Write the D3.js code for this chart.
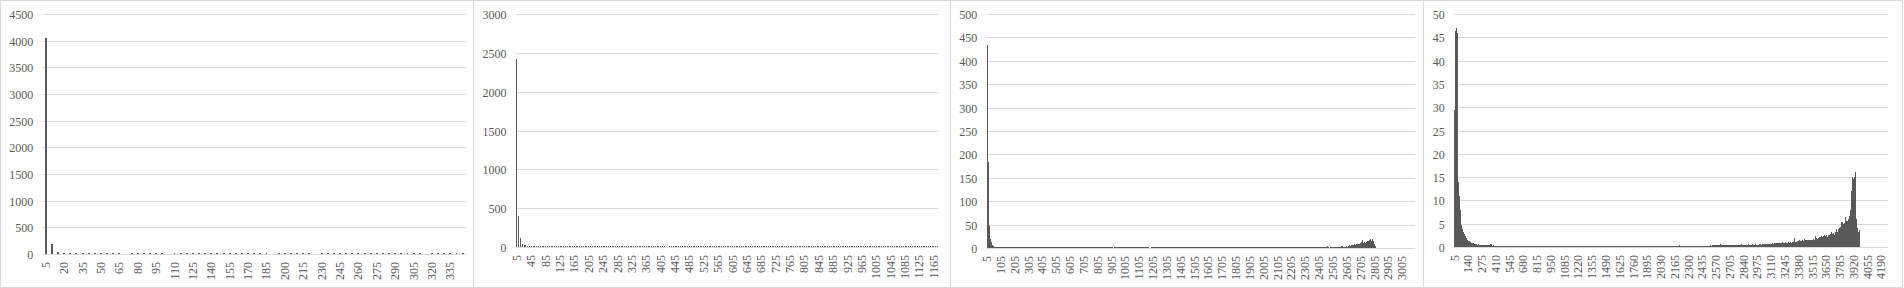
<!DOCTYPE html>
<html>
<head>
<meta charset="utf-8">
<script src="https://cdn.jsdelivr.net/npm/d3@7"></script>
<style>
  body { margin: 0; background: #fff; }
  svg text { font-family: "Liberation Serif", "Times New Roman", serif; font-size: 12px; fill: #595959; }
</style>
</head>
<body>
<script>
'use strict';

// bin counts, bins are 5, 10, 15, ... (one value per bin)
const counts1 = [4050, 190, 40,
  15, 14, 13, 14, 12, 13, 12, 12, 13, 12, 0, 12, 11, 12, 12, 11,
  12, 0, 11, 12, 11, 11, 12, 11, 10, 11, 11, 12, 11, 10, 11, 10,
  11, 10, 0, 11, 10, 10, 11, 10, 10, 0, 10, 10, 11, 10, 10, 10,
  10, 11, 10, 10, 10, 11, 10, 10, 10, 10, 10, 0, 10, 10, 10, 10,
  10, 10];

const counts2 = [2421, 399, 111, 43, 21, 21, 13, 10, 9, 9, 8,
  8, 9, 8, 7, 8, 8, 7, 8, 7, 8, 7, 8, 7, 7, 8, 7,
  7, 8, 7, 7, 8, 7, 7, 7, 7, 8, 7, 7, 7, 8, 7, 7,
  7, 7, 7, 7, 7, 7, 8, 7, 7, 7, 7, 7, 7, 7, 8, 7,
  7, 7, 7, 7, 7, 7, 7, 7, 7, 8, 7, 7, 7, 7, 7, 7,
  7, 7, 7, 7, 7, 7, 7, 7, 0, 0, 7, 7, 7, 7, 7, 7,
  7, 7, 7, 8, 7, 7, 7, 7, 7, 7, 7, 7, 7, 7, 7, 7,
  7, 7, 7, 7, 7, 7, 7, 8, 7, 7, 7, 7, 7, 7, 7, 7,
  7, 7, 7, 7, 7, 7, 7, 7, 7, 7, 7, 7, 8, 7, 7, 7,
  7, 7, 7, 7, 7, 7, 7, 7, 7, 7, 7, 7, 7, 7, 7, 7,
  7, 7, 7, 7, 8, 7, 7, 7, 7, 7, 7, 7, 7, 7, 7, 7,
  7, 7, 7, 7, 7, 7, 7, 7, 7, 7, 8, 7, 7, 7, 7, 7,
  7, 7, 7, 7, 7, 7, 7, 7, 7, 7, 7, 7, 7, 7, 7, 7,
  7, 7, 7, 7, 7, 7, 8, 7, 7, 7, 7, 7, 7, 7, 7, 7,
  7, 7, 7, 7, 7, 7, 7, 7, 7, 7, 7, 7, 7, 7, 7, 7];

const counts3 = [
  347, 434, 184, 46, 35, 18.5, 12, 8, 6, 4.5, 3.5, 3, 2.5, 2.2, 2, 1.9, 1.8, 1.7, 1.6, 1.6, // 0-19
  1.5, 1.6, 1.5, 1.4, 1.5, 1.5, 1.4, 1.5, 1.3, 1.4, 1.5, 1.4, 1.3, 1.4, 1.5, 1.3, 1.4, 1.3, 1.4, 1.3, // 20-39
  1.3, 1.4, 1.3, 1.3, 1.4, 1.3, 1.2, 1.3, 1.3, 1.4, 1.3, 1.2, 1.3, 1.3, 1.2, 1.3, 1.4, 1.2, 1.3, 1.2, // 40-59
  1.3, 1.3, 1.2, 1.3, 1.2, 1.3, 1.3, 1.2, 1.3, 1.2, 1.3, 1.2, 1.3, 1.2, 1.2, 1.3, 1.2, 1.3, 1.2, 1.2, // 60-79
  1.3, 1.2, 1.2, 1.3, 1.2, 1.2, 1.3, 1.2, 1.2, 1.2, 1.3, 1.2, 1.2, 1.2, 1.3, 1.2, 1.2, 1.2, 1.2, 1.3, // 80-99
  1.2, 1.2, 1.2, 1.3, 1.2, 1.2, 1.2, 1.2, 1.2, 1.3, 1.2, 1.2, 1.2, 1.2, 1.2, 1.2, 1.3, 1.2, 1.2, 1.2, // 100-119
  1.2, 1.2, 1.3, 1.2, 1.2, 1.2, 1.2, 1.2, 1.2, 1.2, 1.3, 1.2, 1.2, 1.2, 1.2, 1.2, 1.2, 1.2, 1.2, 1.3, // 120-139
  1.2, 1.2, 1.2, 1.2, 1.2, 1.2, 1.2, 1.2, 1.2, 1.2, 1.3, 1.2, 1.2, 1.2, 1.2, 1.2, 1.2, 1.2, 1.2, 1.2, // 140-159
  1.2, 1.2, 1.2, 1.3, 1.2, 1.2, 1.2, 1.2, 1.2, 1.2, 1.2, 1.2, 1.2, 1.3, 1.2, 1.2, 1.2, 1.2, 1.2, 1.2, // 160-179
  1.2, 1.2, 0,   0,   1.2, 1.2, 1.2, 1.2, 1.2, 1.2, 1.2, 1.3, 1.2, 1.2, 1.2, 1.2, 1.2, 1.2, 1.2, 1.2, // 180-199
  1.2, 1.2, 1.2, 1.2, 1.2, 1.2, 1.2, 1.2, 1.2, 1.2, 1.3, 1.2, 1.2, 1.2, 1.2, 1.2, 1.2, 1.2, 1.2, 1.2, // 200-219
  1.2, 1.2, 1.2, 1.2, 1.2, 1.2, 1.2, 1.2, 1.2, 1.2, 1.2, 1.2, 1.2, 1.2, 1.2, 0,   0,   1.2, 1.2, 1.2, // 220-239
  1.2, 1.2, 1.2, 1.2, 1.2, 1.2, 1.3, 1.2, 1.2, 1.2, 1.2, 1.2, 1.2, 1.2, 1.2, 1.2, 1.2, 1.2, 1.2, 1.2, // 240-259
  1.2, 1.2, 1.2, 1.2, 1.2, 1.2, 1.2, 1.2, 1.2, 1.2, 1.2, 1.2, 1.2, 1.3, 1.2, 1.2, 1.2, 1.2, 1.2, 1.2, // 260-279
  1.2, 1.2, 1.2, 1.2, 1.2, 1.2, 1.2, 1.2, 1.2, 1.2, 1.2, 1.2, 1.2, 1.2, 1.2, 1.2, 1.2, 1.2, 1.2, 1.2, // 280-299
  1.2, 1.2, 1.2, 1.2, 1.2, 1.2, 1.2, 1.2, 1.3, 1.2, 1.2, 1.2, 1.2, 1.2, 1.2, 1.2, 1.2, 1.2, 1.2, 1.2, // 300-319
  1.2, 1.2, 1.2, 1.2, 1.2, 1.2, 1.2, 1.2, 1.2, 1.2, 1.2, 1.2, 1.2, 1.2, 1.2, 1.2, 1.2, 1.2, 1.2, 1.2, // 320-339
  1.2, 1.2, 1.2, 1.2, 1.2, 1.2, 1.2, 1.2, 1.2, 1.2, 1.2, 1.2, 1.2, 1.2, 1.2, 1.3, 1.2, 1.2, 1.2, 1.2, // 340-359
  1.2, 1.2, 1.2, 1.2, 1.2, 1.2, 1.2, 1.2, 1.2, 1.2, 1.2, 1.2, 1.2, 1.2, 1.2, 1.2, 1.2, 1.2, 1.2, 1.2, // 360-379
  1.2, 1.2, 1.2, 1.2, 1.2, 1.2, 1.2, 1.2, 1.2, 1.2, 1.2, 1.2, 1.2, 1.2, 1.2, 1.2, 1.2, 1.2, 1.2, 1.2, // 380-399
  1.2, 1.2, 1.2, 1.2, 1.2, 1.2, 1.2, 1.2, 1.2, 1.2, 1.2, 1.2, 1.2, 1.2, 1.2, 1.2, 1.2, 1.2, 1.2, 1.2, // 400-419
  1.2, 1.2, 1.2, 1.2, 1.2, 1.2, 1.2, 1.2, 1.2, 1.2, 1.2, 1.2, 1.2, 1.2, 1.2, 1.2, 1.2, 1.2, 1.2, 1.2, // 420-439
  1.2, 1.2, 1.2, 1.2, 1.2, 1.2, 1.2, 1.2, 1.2, 1.2, 1.2, 1.2, 1.2, 1.2, 1.2, 1.2, 1.2, 1.2, 1.2, 1.2, // 440-459
  1.2, 1.2, 1.2, 1.2, 1.2, 1.2, 1.2, 1.2, 1.2, 1.2, 1.2, 1.2, 1.2, 1.2, 1.2, 1.2, 1.2, 1.2, 1.2, 1.2, // 460-479
  1.2, 1.2, 1.2, 1.2, 1.2, 1.2, 1.2, 1.2, 1.2, 1.2, 1.2, 1.2,                                         // 480-491
  4.3, 1, 1.2, 1, 1.3, 1.2, 1.5, 1.2,                                                                  // 492-499
  1.5, 3, 1.2, 1.5, 3, 1.5, 1.2, 1.5, 1.8, 2,                                                          // 500-509
  2, 3, 4, 5, 4, 3, 3, 2, 3, 4,                                                                        // 510-519
  4, 3, 4, 5, 6, 4, 5, 6, 7, 5,                                                                        // 520-529
  6, 8, 6, 7, 8, 7, 8, 9, 7, 8,                                                                        // 530-539
  10, 12, 17, 9, 10, 11, 12, 10, 13, 11,                                                               // 540-549
  14, 12, 15, 17, 19, 14, 16, 19, 15, 12,                                                              // 550-559
  8, 5, 5,                                                                                             // 560-562
  0, 0, 0, 0, 0, 0, 0, 0, 0, 0, 0, 0, 0, 0, 0, 0, 0, 0, 0, 0,                                          // 563-582
  0, 0, 0, 0, 0, 0, 0, 0, 0, 0, 0, 0, 0, 0, 0, 0, 0, 0, 0, 0,                                          // 583-602
  0, 0, 0, 0, 0, 0, 0, 0, 0, 0, 0, 0, 0, 0, 0, 0                                                       // 603-618
];

const counts4 = [29.5, 46.4, 46, 46.5, 47, 46, 14.5, 14, 12, 11, 9, 8, 5, 4.8, 4.5,
  3.8, 3.5, 3.2, 3, 2.7, 2.5, 2.3, 2.1, 1.9, 1.7, 1.5, 1.4, 1.3, 1.2, 1.2,
  1.1, 1.0, 1.0, 0.9, 0.9, 0.8, 0.8, 0.8, 0.7, 0.7, 0.7, 0.6, 0.6, 0.6, 0.6,
  0.5, 0.5, 0.6, 0.5, 0.5, 0.5, 0.5, 0.4, 0.5, 0.4, 0.4, 0.5, 0.4, 0.4, 0.4,
  0.4, 0.4, 0.3, 0.4, 0.4, 0.3, 0.4, 0.3, 0.3, 0.4, 0.3, 0.7, 0.7, 0.6, 0.3, 0.3, 0.3, 0.4, 0.3, 0.3,
  0.3, 0.3, 0.3, 0.3, 0.2, 0.3, 0.3, 0.3, 0.2, 0.3, 0.3, 0.2, 0.3, 0.2, 0.3, 0.2, 0.2, 0.3, 0.2, 0.2,
  0.3, 0.2, 0.3, 0.2, 0.2, 0.3, 0.2, 0.2, 0.3, 0.2, 0.2, 0.2, 0.3, 0.2, 0.2, 0.2,
  0.3, 0.2, 0.2, 0.2, 0.2, 0.3, 0.2, 0.2, 0.2, 0.2, 0.2, 0.3, 0.2, 0.2, 0.2, 0.2,
  0.2, 0.2, 0.3, 0.2, 0.2, 0.2, 0.2, 0.1, 0.2, 0.2, 0.2, 0.2, 0.2, 0.3, 0.2, 0.2,
  0.2, 0.2, 0.2, 0.2, 0.1, 0.2, 0.2, 0.2, 0.2, 0.2, 0.2, 0.2, 0.1, 0.2, 0.2, 0.2,
  0.2, 0.1, 0.2, 0.2, 0.2, 0.2, 0.2, 0.2, 0.1, 0.2, 0.2, 0.2, 0.2, 0.2, 0.2, 0.1,
  0.2, 0.2, 0.2, 0.2, 0.2, 0.1, 0.2, 0.2, 0.2, 0.2, 0.2, 0.2, 0.2, 0.1, 0.2, 0.2,
  0.2, 0.2, 0.1, 0.2, 0.2, 0.2, 0.2, 0.2, 0.2, 0.2, 0.1, 0.2, 0.2, 0.2, 0.2, 0.2,
  0.2, 0.2, 0.2, 0.2, 0.2, 0.2, 0.1, 0.2, 0.2, 0.2, 0.2, 0.2, 0.2, 0.2, 0.2, 0.1,
  0.2, 0.2, 0.2, 0.1, 0.2, 0.2, 0.2, 0.2, 0.2, 0.2, 0.2, 0.1, 0.2, 0.2, 0.2, 0.2,
  0.2, 0.2, 0.2, 0.2, 0.2, 0.2, 0.2, 0.2, 0.1, 0.2, 0.2, 0.2, 0.2, 0.2, 0.2, 0.2,
  0.2, 0.1, 0.2, 0.2, 0.2, 0.2, 0.2, 0.2, 0.2, 0.2, 0.2, 0.2, 0.1, 0.2, 0.2, 0.2,
  0.2, 0.2, 0.2, 0.2, 0.2, 0.1, 0.2, 0.2, 0.2, 0.2, 0.2, 0.2, 0.2, 0.2, 0.2, 0.2,
  0.2, 0.2, 0.2, 0.2, 0.2, 0.2, 0.2, 0.2, 0.2, 0.1, 0.2, 0.2, 0.2, 0.2, 0.2, 0.2,
  0.2, 0.2, 0.2, 0.2, 0.2, 0.2, 0.2, 0.2, 0.2, 0.2, 0.2, 0.2, 0.2, 0.1, 0.2, 0.2,
  0.2, 0.2, 0.2, 0.1, 0.2, 0.2, 0.2, 0.2, 0.2, 0.2, 0.2, 0.2, 0.2, 0.2, 0.2, 0.2,
  0.2, 0.2, 0.2, 0.2, 0.2, 0.2, 0.2, 0.2, 0.2, 0.2, 0.2, 0.2, 0.2, 0.2, 0.2, 0.2,
  0.2, 0.2, 0.2, 0.2, 0.2, 0.2, 0.2, 0.2, 0.2, 0.2, 0.2, 0.2, 0.2, 0.2, 0.2, 0.2,
  0.2, 0.2, 0.2, 0.2, 0.2, 0.2, 0.2, 0.3, 0.2, 0.2, 0.2, 0.2, 0.2, 0.2, 0.2, 0.2,
  0.2, 0.2, 0.2, 0.2, 0.2, 0.2, 0.2, 0.2, 0.2, 0.2, 0.2, 0.2, 0.2, 0.2, 0.2, 0.2,
  0.2, 0.2, 0.2, 0.2, 0.2, 0.2, 0.2, 0.2, 0.2, 0.2, 0.2, 0.2, 0.2, 0.2, 0.2, 0.2,
  0.2, 0.2, 0.2, 0.2, 0.2, 0.2, 0.2, 0.2, 0.2, 0.2, 0.2, 0.2, 0.2, 0.2, 0.2, 0.2,
  0.2, 0.2, 0.2, 0.2, 0.2, 0.2, 0.4, 0.3, 0.2, 0.2, 0.2, 0.2, 0.2, 0.2, 0.2, 0.2,
  0.2, 0.2, 0.2, 0.2, 0.2, 0.2, 0.2, 0.2, 0.2, 0.2, 0.2, 0.2, 0.2, 0.2, 0.2, 0.2,
  0.2, 0.2, 0.2, 0.2, 0.2, 0.2, 0.2, 0.2, 0.2, 0.2, 0.2, 0.2, 0.2, 0.2, 0.2, 0.2,
  0.2, 0.2, 0.3, 0.2, 0.2, 0.2, 0.3, 0.2, 0.2, 0.2, 0.3, 0.2, 0.3, 0.2, 0.2, 0.3,
  0.3, 0.3, 0.4, 0.3, 0.3, 0.4, 0.3, 0.4, 0.3, 0.3, 0.4, 0.3, 0.4, 0.4, 0.3, 0.4, 0.3, 0.4, 0.4, 0.3,
  0.5, 0.4, 0.6, 0.4, 0.3, 0.4, 0.4, 0.5, 0.3, 0.4, 0.4, 0.3, 0.4, 0.5, 0.4, 0.3, 0.4, 0.4, 0.3, 0.4,
  0.5, 0.4, 0.4, 0.3, 0.4, 0.5, 0.4, 0.4, 0.3, 0.4, 0.4, 0.5, 0.4, 0.4, 0.5, 0.4, 0.3, 0.4, 0.5, 0.4,
  0.4, 0.5, 0.4, 0.6, 0.4, 0.5, 0.4, 0.4, 0.5, 0.4, 0.5, 0.4, 0.5, 0.5, 0.4, 0.5, 0.6, 0.4, 0.5, 0.4,
  0.5, 0.5, 0.4, 0.5, 0.6, 0.5, 0.4, 0.5, 0.5, 0.4, 0.5, 0.6, 0.5, 0.5, 0.4, 0.5, 0.5, 0.6, 0.5, 0.5,
  0.6, 0.5, 0.5, 0.6, 0.5, 0.5, 0.6, 0.5, 0.6, 0.5, 0.6, 0.6, 0.5, 0.6, 0.5, 0.6, 0.7, 0.6, 0.6, 0.6,
  0.6, 0.7, 0.6, 0.7, 0.8, 0.6, 0.7, 0.8, 0.7, 0.6, 0.8, 0.7, 0.9, 0.7, 0.8, 0.6, 0.8, 0.9, 0.7, 0.8,
  0.7, 0.9, 0.8, 1.0, 0.7, 0.8, 0.9, 0.8, 0.7, 1.0, 0.8, 0.9, 0.7, 0.8, 1.0, 0.9, 0.8, 0.7, 0.9, 1.0,
  0.8, 0.9, 1.0, 0.8, 0.9, 1.1, 0.9, 1.9, 1.0, 0.9,
  1.0, 0.9, 1.1, 1.2, 1.0, 1.3, 1.1, 1.5, 1.2, 1.0, 1.1, 1.3, 1.2, 1.4, 1.1,
  1.3, 1.2, 1.8, 1.4, 1.3, 1.2, 1.5, 1.4, 1.3, 1.1, 1.6, 1.5, 1.4, 1.2, 1.3,
  1.5, 1.3, 1.6, 1.4, 1.8, 1.5, 1.4, 2.4, 1.6, 1.7, 1.9, 1.5, 1.8, 2, 1.7, 2.1, 1.9, 2.2, 1.8, 2,
  2.3, 2.1, 1.9, 2.4, 2.2, 2, 2.5, 2.3, 2.1, 2.5, 1.8, 2, 2.2, 2.5, 2.3, 2.6, 2.4, 2.8, 2.6, 3.2,
  2.5, 2.2, 2.8, 2.4, 3, 2.6, 3.2, 2.8, 3.8, 3, 3.3, 2.9, 3.9, 3.2, 3.5,
  4, 3.6, 4.2, 5.3, 4, 4.6, 5.3, 4.5, 5, 4.8, 5.2, 6.5, 5, 5.5, 4.8,
  5.5, 5, 6, 5, 6.6, 6, 7, 8, 10, 12, 15, 12, 12, 14.5, 14, 15, 16.2,
  6.2, 6, 5, 4, 3, 3, 3.3, 3.6, 3,
  0, 0, 0, 0, 0, 0, 0, 0, 0, 0, 0, 0, 0, 0, 0, 0,
  0, 0, 0, 0, 0, 0, 0, 0, 0, 0, 0, 0, 0, 0, 0, 0,
  0, 0, 0, 0, 0, 0, 0, 0, 0, 0, 0, 0, 0, 0, 0, 0,
  0, 0, 0, 0, 0, 0, 0];

// value axis ticks of each chart
const yTicks1 = [0, 500, 1000, 1500, 2000, 2500, 3000, 3500, 4000, 4500];
const yTicks2 = [0, 500, 1000, 1500, 2000, 2500, 3000];
const yTicks3 = [0, 50, 100, 150, 200, 250, 300, 350, 400, 450, 500];
const yTicks4 = [0, 5, 10, 15, 20, 25, 30, 35, 40, 45, 50];

// a category label is shown on every n-th bin
const labelStep = [3, 8, 20, 27];

const binStart = 5;
const binWidth = 5;

// layout of the four chart boxes
const boxes = [
  { left: 0,    width: 474, plotL: 42.7, plotR: 465.7, top: 14, base: 254 },
  { left: 473,  width: 478, plotL: 43,   plotR: 465.3, top: 14, base: 247 },
  { left: 950,  width: 474, plotL: 36.7, plotR: 465,   top: 14, base: 248 },
  { left: 1423, width: 480, plotL: 31.3, plotR: 465.3, top: 14, base: 247 }
];

const allCounts = [counts1, counts2, counts3, counts4];
const allTicks = [yTicks1, yTicks2, yTicks3, yTicks4];

const barColor = '#595959';
const gridColor = '#d9d9d9';

let svg = d3.select('body')
  .append('svg')
  .attr('width', 1904)
  .attr('height', 288);

boxes.forEach((box, i) => drawChart(box, allCounts[i], allTicks[i], labelStep[i]));

function drawChart(box, counts, ticks, step) {
  let g = svg.append('g')
    .attr('transform', 'translate(' + box.left + ',0)');

  // chart border
  g.append('rect')
    .attr('x', 0.5)
    .attr('y', 0.5)
    .attr('width', box.width - 1)
    .attr('height', 287)
    .attr('fill', 'none')
    .attr('stroke', gridColor);

  let bins = counts.map((c, i) => binStart + binWidth * i);

  let x = d3.scaleBand()
    .domain(bins)
    .range([box.plotL, box.plotR])
    .padding(0);

  let y = d3.scaleLinear()
    .domain([0, d3.max(ticks)])
    .range([box.base, box.top]);

  // horizontal gridlines (the zero line doubles as the axis)
  g.selectAll('.grid')
    .data(ticks)
    .enter()
    .append('line')
    .attr('class', 'grid')
    .attr('x1', box.plotL)
    .attr('x2', box.plotR)
    .attr('y1', d => Math.round(y(d)) + 0.5)
    .attr('y2', d => Math.round(y(d)) + 0.5)
    .attr('stroke', gridColor)
    .attr('stroke-width', 1);

  // value labels
  g.selectAll('.ylab')
    .data(ticks)
    .enter()
    .append('text')
    .attr('class', 'ylab')
    .attr('x', box.plotL - 9.5)
    .attr('y', d => Math.round(y(d)) + 0.5)
    .attr('text-anchor', 'end')
    .attr('dominant-baseline', 'central')
    .text(d => d);

  // bars: Excel gap width 219%, never thinner than one pixel
  let bw = Math.max(x.bandwidth() / 3.19, 1);
  g.selectAll('.bar')
    .data(bins.map((b, i) => ({ bin: b, count: counts[i] })).filter(d => d.count > 0))
    .enter()
    .append('rect')
    .attr('class', 'bar')
    .attr('x', d => x(d.bin) + (x.bandwidth() - bw) / 2)
    .attr('width', bw)
    .attr('y', d => y(d.count))
    .attr('height', d => box.base - y(d.count))
    .attr('fill', barColor)
    .attr('shape-rendering', 'crispEdges');

  // category labels, rotated
  g.selectAll('.xlab')
    .data(bins.filter((b, i) => i % step === 0))
    .enter()
    .append('text')
    .attr('class', 'xlab')
    .attr('transform', d => 'translate(' + (x(d) + x.bandwidth() / 2) + ',' + (box.base + 8) + ')rotate(-90)')
    .attr('text-anchor', 'end')
    .attr('dominant-baseline', 'central')
    .text(d => d);
}
</script>
</body>
</html>
